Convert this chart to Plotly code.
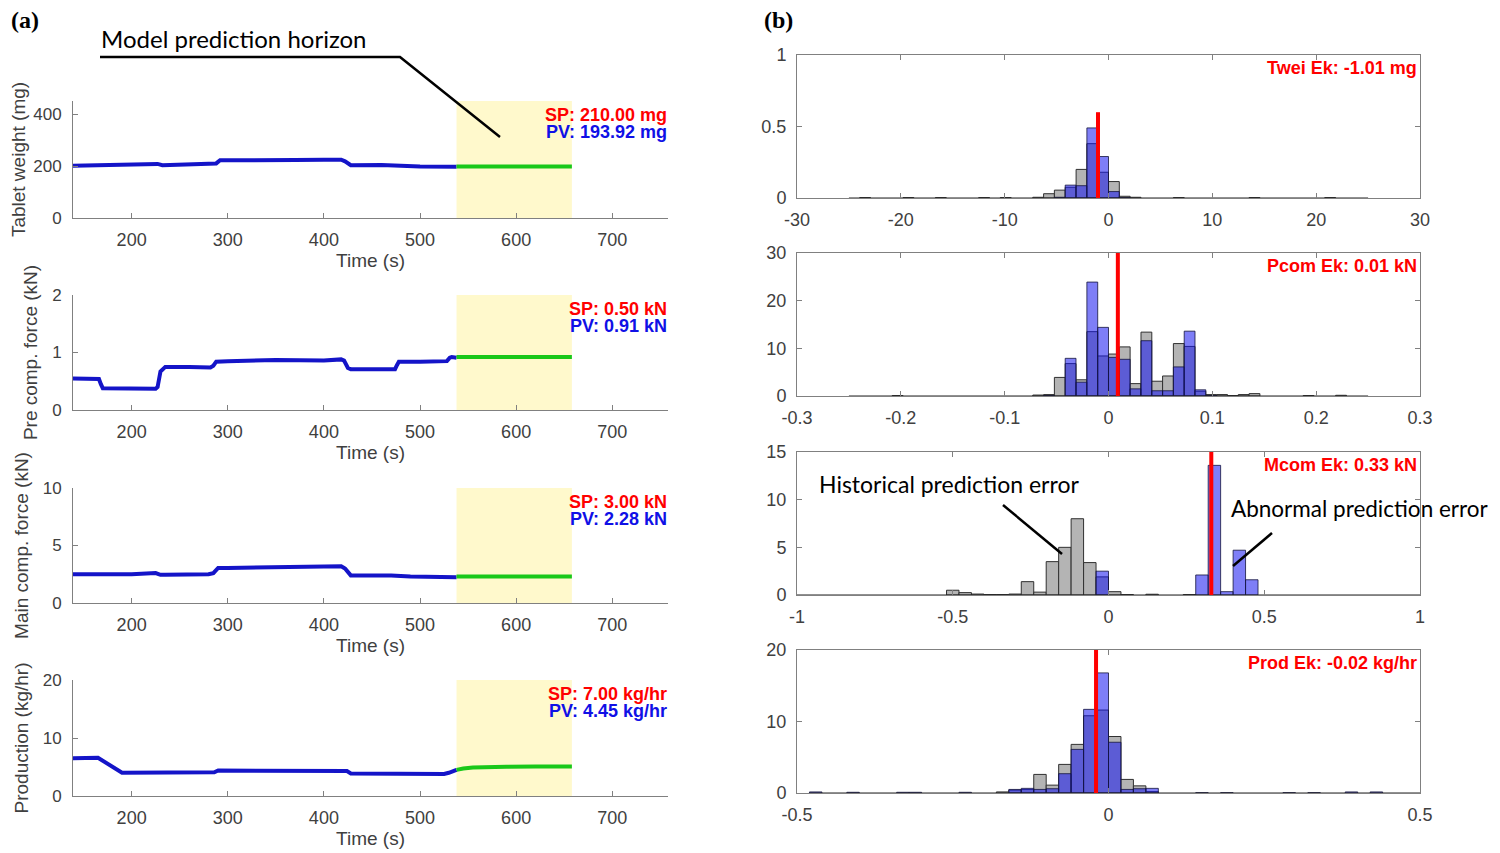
import plotly.graph_objects as go

W, H = 1500, 853
OFF = 8  # page body margin offset
def px(x): return (x - OFF) / W
def py(y): return 1 - (y - OFF) / H

# ---------------- (a) time series data ----------------
t_weight = [138, 160, 200, 222, 227, 232, 260, 284, 288, 292, 330, 370, 400, 418, 422, 428, 460, 500, 538]
v_weight = [201, 203, 204, 206, 208, 203, 205, 208, 210, 222, 221, 223, 224, 224, 218, 203, 204, 198, 197]
t_weight_pred = [538, 658]
v_weight_pred = [198, 198]

t_pre = [138, 166, 168, 170, 225, 227, 230, 235, 260, 282, 285, 288, 300, 350, 400, 418, 421, 425, 428, 450, 474, 476, 478, 500, 528, 531, 533, 538]
v_pre = [0.55, 0.54, 0.45, 0.38, 0.37, 0.40, 0.67, 0.75, 0.75, 0.74, 0.77, 0.84, 0.85, 0.87, 0.86, 0.88, 0.86, 0.73, 0.71, 0.71, 0.71, 0.78, 0.84, 0.84, 0.85, 0.91, 0.92, 0.91]
t_pre_pred = [538, 658]
v_pre_pred = [0.92, 0.92]

t_main = [138, 200, 225, 230, 235, 280, 285, 290, 300, 350, 400, 418, 422, 428, 470, 490, 538]
v_main = [2.5, 2.5, 2.6, 2.45, 2.45, 2.5, 2.6, 3.05, 3.05, 3.15, 3.2, 3.2, 3.0, 2.4, 2.4, 2.3, 2.25]
t_main_pred = [538, 658]
v_main_pred = [2.3, 2.3]

t_prod = [138, 165, 190, 230, 235, 286, 290, 420, 424, 428, 500, 525, 530, 538]
v_prod = [6.5, 6.6, 4.0, 4.1, 4.0, 4.1, 4.4, 4.4, 4.3, 3.9, 3.85, 3.8, 4.0, 4.5]
t_prod_pred = [538, 545, 555, 570, 590, 620, 658]
v_prod_pred = [4.5, 4.75, 4.9, 5.0, 5.05, 5.1, 5.1]

horizon_start, horizon_end = 538, 658

a_titles = ["Tablet weight (mg)", "Pre comp. force (kN)", "Main comp. force (kN)", "Production (kg/hr)"]
a_yranges = [[0, 450], [0, 2], [0, 10], [0, 20]]
a_yticks = [[0, 200, 400], [0, 1, 2], [0, 5, 10], [0, 10, 20]]
a_sp = ["SP: 210.00 mg", "SP: 0.50 kN", "SP: 3.00 kN", "SP: 7.00 kg/hr"]
a_pv = ["PV: 193.92 mg", "PV: 0.91 kN", "PV: 2.28 kN", "PV: 4.45 kg/hr"]
time_ticks = [200, 300, 400, 500, 600, 700]
time_range = [139, 758]

# ---------------- (b) histogram data ----------------
b1_width = 50 / 48
b1_centers_gray = [-23.44, -19.27, -16.15, -11.98, -9.90, -6.77, -5.73, -4.69, -3.65, -2.60, -1.56, -0.52, 0.52, 1.56, 2.60, 6.77, 14.06, 21.35]
b1_gray = [0.003, 0.003, 0.003, 0.003, 0.003, 0.005, 0.03, 0.055, 0.075, 0.2, 0.38, 0.18, 0.115, 0.012, 0.005, 0.003, 0.003, 0.003]
b1_centers_blue = [-4.69, -3.65, -2.60, -1.56, -0.52, 0.52, 1.56]
b1_blue = [0.005, 0.09, 0.086, 0.49, 0.29, 0.045, 0.003]
b1_ek, b1_ek_top = -1.01, 0.6
b1_span = [-25, 25]

b2_width = 0.5 / 48
b2_centers_gray = [-0.2031, -0.0677, -0.0573, -0.0469, -0.0365, -0.0260, -0.0156, -0.0052, 0.0052, 0.0156, 0.0260, 0.0365, 0.0469, 0.0573, 0.0677, 0.0781, 0.0885, 0.0990, 0.1094, 0.1198, 0.1302, 0.1406, 0.1927, 0.2240]
b2_gray = [0.1, 0.2, 0.3, 3.9, 6.8, 3.4, 13.5, 8.4, 8.8, 10.3, 2.6, 13.4, 3.1, 4.2, 11.0, 10.4, 1.0, 0.3, 0.3, 0.1, 0.3, 0.5, 0.1, 0.15]
b2_centers_blue = [-0.0573, -0.0365, -0.0260, -0.0156, -0.0052, 0.0052, 0.0156, 0.0260, 0.0365, 0.0469, 0.0573, 0.0677, 0.0781, 0.0885, 0.0990]
b2_blue = [0.1, 7.9, 2.9, 23.9, 14.4, 8.1, 7.7, 1.5, 11.6, 1.1, 1.1, 6.1, 13.6, 1.3, 0.1]
b2_ek, b2_ek_top = 0.009, 30
b2_span = [-0.25, 0.25]

b3_width = 0.04
b3_centers_gray = [-0.50, -0.46, -0.42, -0.38, -0.34, -0.30, -0.26, -0.22, -0.18, -0.14, -0.10, -0.06, -0.02, 0.02, 0.06, 0.14, 0.26]
b3_gray = [0.5, 0.25, 0.1, 0.05, 0.05, 0.1, 1.4, 0.3, 3.5, 5.0, 8.0, 3.4, 1.9, 0.35, 0.05, 0.08, 0.05]
b3_centers_blue = [-0.02, 0.30, 0.34, 0.38, 0.42, 0.46]
b3_blue = [2.5, 2.1, 13.6, 0.35, 4.7, 1.6]
b3_ek, b3_ek_top = 0.33, 15
b3_span = [-1, 1]

b4_width = 0.02
b4_centers_gray = [-0.17, -0.15, -0.13, -0.11, -0.09, -0.07, -0.05, -0.03, -0.01, 0.01, 0.03, 0.05, 0.07]
b4_gray = [0.15, 0.4, 0.5, 2.6, 1.1, 4.0, 6.8, 10.8, 11.6, 7.9, 1.9, 1.0, 0.2]
b4_centers_blue = [-0.47, -0.41, -0.33, -0.31, -0.23, -0.15, -0.13, -0.11, -0.09, -0.07, -0.05, -0.03, -0.01, 0.01, 0.03, 0.05, 0.07, 0.15, 0.19, 0.29, 0.33, 0.39, 0.43]
b4_blue = [0.15, 0.1, 0.1, 0.1, 0.1, 0.5, 0.65, 0.5, 0.6, 2.7, 6.1, 11.7, 16.8, 7.1, 0.5, 0.6, 0.65, 0.05, 0.05, 0.05, 0.05, 0.15, 0.15]
b4_ek, b4_ek_top = -0.02, 20
b4_span = [-0.48, 0.5]

b_ek_labels = ["Twei Ek: -1.01 mg", "Pcom Ek: 0.01 kN", "Mcom Ek: 0.33 kN", "Prod Ek: -0.02 kg/hr"]
b_xranges = [[-30, 30], [-0.3, 0.3], [-1, 1], [-0.5, 0.5]]
b_xticks = [[-30, -20, -10, 0, 10, 20, 30], [-0.3, -0.2, -0.1, 0, 0.1, 0.2, 0.3], [-1, -0.5, 0, 0.5, 1], [-0.5, 0, 0.5]]
b_xticktext = [["-30", "-20", "-10", "0", "10", "20", "30"], ["-0.3", "-0.2", "-0.1", "0", "0.1", "0.2", "0.3"],
               ["-1", "-0.5", "0", "0.5", "1"], ["-0.5", "0", "0.5"]]
b_yranges = [[0, 1], [0, 30], [0, 15], [0, 20]]
b_yticks = [[0, 0.5, 1], [0, 10, 20, 30], [0, 5, 10, 15], [0, 10, 20]]

# ---------------- styling ----------------
FONT = "Liberation Sans"
TICKC = "#404040"
AXC = "#808080"
BLUE_LINE = "#1414c8"
GREEN_LINE = "#19c819"
YELLOW = "#fff9cc"
TICKSIZE = 18
YTICKSIZE = 17
TITLESIZE = 19
LABELSIZE = 18

L_x = [px(73), px(668)]
L_y = [(101, 218), (295, 410), (488, 603), (680, 796)]
R_x = [px(797), px(1420)]
R_y = [(55, 198), (253, 396), (452, 595), (650, 793)]

fig = go.Figure()
layout = dict(
    width=W, height=H, autosize=False,
    margin=dict(l=0, r=0, t=0, b=0, pad=0),
    paper_bgcolor="white", plot_bgcolor="white",
    showlegend=False, barmode="overlay",
    font=dict(family=FONT, size=TICKSIZE, color=TICKC),
)

series = [
    (t_weight, v_weight, t_weight_pred, v_weight_pred),
    (t_pre, v_pre, t_pre_pred, v_pre_pred),
    (t_main, v_main, t_main_pred, v_main_pred),
    (t_prod, v_prod, t_prod_pred, v_prod_pred),
]

shapes = []
annotations = []

for i in range(4):
    n = i + 1
    xa = "x" if n == 1 else f"x{n}"
    ya = "y" if n == 1 else f"y{n}"
    t, v, tp, vp = series[i]
    fig.add_trace(go.Scatter(x=t, y=v, mode="lines", line=dict(color=BLUE_LINE, width=4),
                             xaxis=xa, yaxis=ya, hoverinfo="skip"))
    fig.add_trace(go.Scatter(x=tp, y=vp, mode="lines", line=dict(color=GREEN_LINE, width=4),
                             xaxis=xa, yaxis=ya, hoverinfo="skip"))
    y0, y1 = L_y[i]
    layout[f"xaxis{n}"] = dict(
        domain=L_x, anchor=ya, range=time_range, tickvals=time_ticks, automargin=False,
        ticks="inside", ticklen=5, tickcolor=AXC, showline=True, linecolor=AXC, linewidth=1,
        showgrid=False, zeroline=False, tickfont=dict(size=TICKSIZE, color=TICKC),
        ticklabelstandoff=5,
        title=dict(text="Time (s)", font=dict(size=TITLESIZE, color=TICKC), standoff=5),
    )
    layout[f"yaxis{n}"] = dict(
        domain=[py(y1), py(y0)], anchor=xa, range=a_yranges[i], tickvals=a_yticks[i], automargin=False,
        ticks="inside", ticklen=5, tickcolor=AXC, showline=True, linecolor=AXC, linewidth=1,
        showgrid=False, zeroline=False, tickfont=dict(size=YTICKSIZE, color=TICKC),
        ticklabelstandoff=7,
        title=dict(text=a_titles[i], font=dict(size=TITLESIZE, color=TICKC), standoff=9),
    )
    shapes.append(dict(type="rect", xref=xa, yref=f"{ya} domain", x0=horizon_start, x1=horizon_end,
                       y0=0, y1=1, fillcolor=YELLOW, line=dict(width=0), layer="below"))
    annotations.append(dict(xref="paper", yref="paper", x=px(669), y=py(y0 + 14), xanchor="right", yanchor="middle",
                            text=f"<b>{a_sp[i]}</b>", showarrow=False, font=dict(size=LABELSIZE, color="#ff0000", family=FONT)))
    annotations.append(dict(xref="paper", yref="paper", x=px(669), y=py(y0 + 31), xanchor="right", yanchor="middle",
                            text=f"<b>{a_pv[i]}</b>", showarrow=False, font=dict(size=LABELSIZE, color="#1010e6", family=FONT)))

hists = [
    (b1_width, b1_centers_gray, b1_gray, b1_centers_blue, b1_blue, b1_ek, b1_ek_top, b1_span),
    (b2_width, b2_centers_gray, b2_gray, b2_centers_blue, b2_blue, b2_ek, b2_ek_top, b2_span),
    (b3_width, b3_centers_gray, b3_gray, b3_centers_blue, b3_blue, b3_ek, b3_ek_top, b3_span),
    (b4_width, b4_centers_gray, b4_gray, b4_centers_blue, b4_blue, b4_ek, b4_ek_top, b4_span),
]

for i in range(4):
    n = i + 5
    xa, ya = f"x{n}", f"y{n}"
    w, cg, hg, cb, hb, ek, ektop, span = hists[i]
    fig.add_trace(go.Scatter(x=span, y=[0, 0], mode="lines", line=dict(color="#222222", width=1.2),
                             xaxis=xa, yaxis=ya, hoverinfo="skip"))
    fig.add_trace(go.Bar(x=cg, y=hg, width=w, marker=dict(color="#b4b4b4", line=dict(color="#303030", width=1)),
                         xaxis=xa, yaxis=ya, hoverinfo="skip"))
    fig.add_trace(go.Bar(x=cb, y=hb, width=w, marker=dict(color="rgba(20,20,240,0.55)", line=dict(color="rgba(20,20,60,0.8)", width=1)),
                         xaxis=xa, yaxis=ya, hoverinfo="skip"))
    fig.add_trace(go.Scatter(x=[ek, ek], y=[0, ektop], mode="lines", line=dict(color="#ff0000", width=4),
                             xaxis=xa, yaxis=ya, hoverinfo="skip"))
    y0, y1 = R_y[i]
    layout[f"xaxis{n}"] = dict(
        domain=R_x, anchor=ya, range=b_xranges[i], tickvals=b_xticks[i], ticktext=b_xticktext[i], automargin=False,
        ticks="inside", ticklen=5, tickcolor=AXC, showline=True, mirror="ticks", linecolor=AXC, linewidth=1,
        showgrid=False, zeroline=False, tickfont=dict(size=TICKSIZE, color=TICKC), ticklabelstandoff=5,
    )
    layout[f"yaxis{n}"] = dict(
        domain=[py(y1), py(y0)], anchor=xa, range=b_yranges[i], tickvals=b_yticks[i], automargin=False,
        ticks="inside", ticklen=5, tickcolor=AXC, showline=True, mirror="ticks", linecolor=AXC, linewidth=1,
        showgrid=False, zeroline=False, tickfont=dict(size=TICKSIZE, color=TICKC), ticklabelstandoff=6,
    )
    annotations.append(dict(xref="paper", yref="paper", x=px(1419), y=py(y0 + 13), xanchor="right", yanchor="middle",
                            text=f"<b>{b_ek_labels[i]}</b>", showarrow=False, font=dict(size=LABELSIZE, color="#ff0000", family=FONT)))

# panel labels and callouts
annotations += [
    dict(xref="paper", yref="paper", x=px(25), y=py(20), xanchor="center", yanchor="middle", text="<b>(a)</b>", showarrow=False,
         font=dict(family="Liberation Serif", size=24, color="black")),
    dict(xref="paper", yref="paper", x=px(778), y=py(20), xanchor="center", yanchor="middle", text="<b>(b)</b>", showarrow=False,
         font=dict(family="Liberation Serif", size=24, color="black")),
    dict(xref="paper", yref="paper", x=px(99), y=py(38), xanchor="left", yanchor="middle", text="Model prediction horizon",
         showarrow=False, font=dict(family="Lato", size=24, color="black")),
    dict(xref="paper", yref="paper", x=px(817), y=py(484), xanchor="left", yanchor="middle", text="Historical prediction error",
         showarrow=False, font=dict(family="Lato", size=23, color="black")),
    dict(xref="paper", yref="paper", x=px(1229), y=py(508), xanchor="left", yanchor="middle", text="Abnormal prediction error",
         showarrow=False, font=dict(family="Lato", size=22.5, color="black")),
]
shapes += [
    dict(type="path", xref="paper", yref="paper",
         path=f"M {px(100)},{py(57)} L {px(400)},{py(57)} L {px(500)},{py(137)}",
         line=dict(color="black", width=2.5)),
    dict(type="line", xref="paper", yref="paper", x0=px(1003), y0=py(505), x1=px(1062), y1=py(554),
         line=dict(color="black", width=2.5)),
    dict(type="line", xref="paper", yref="paper", x0=px(1272), y0=py(533), x1=px(1233), y1=py(566),
         line=dict(color="black", width=2.5)),
]

layout["shapes"] = shapes
layout["annotations"] = annotations
fig.update_layout(**layout)
fig.write_html("out.html")
